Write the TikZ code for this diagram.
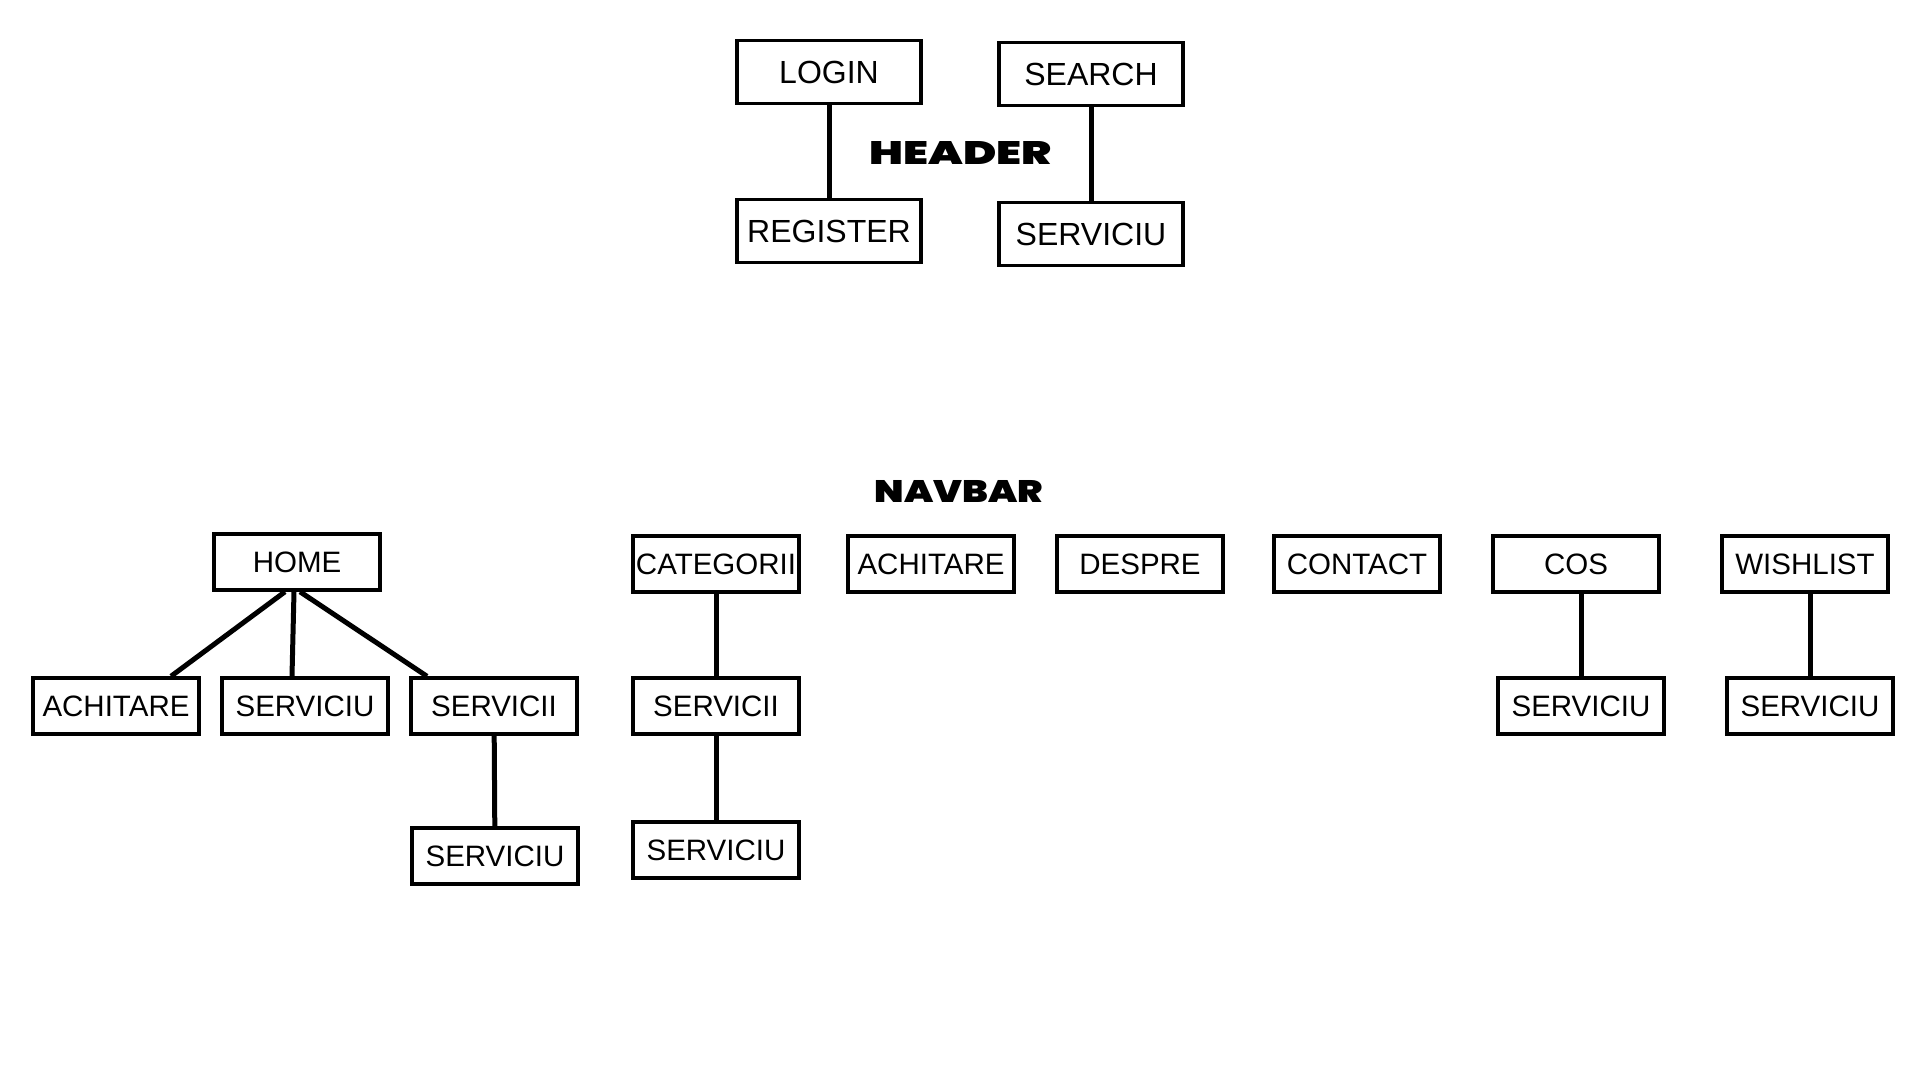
\documentclass[tikz,border=0pt]{standalone}
\usepackage{fontspec}
\usepackage{graphicx}
\setmainfont{Liberation Sans}
\newfontfamily\titlefont{Poppins Black}
\usetikzlibrary{positioning, calc}

\tikzset{
    headbox/.style={draw, line width=3.5pt, inner sep=0pt, minimum width=184pt, minimum height=63pt, font=\fontsize{32}{32}\selectfont},
    navbox/.style={draw, line width=3.5pt, inner sep=0pt, minimum width=166pt, minimum height=56pt, font=\fontsize{29.5}{29.5}\selectfont},
    link/.style={line width=5pt}
}

\begin{document}
\begin{tikzpicture}[x=1pt, y=-1pt]
                \useasboundingbox (0,0) rectangle (1920,1080);
                % header
                \node (header) at (961,153) {\titlefont\resizebox{182pt}{23pt}{HEADER}};
                \node[headbox] (login) at (829,72) {LOGIN};
                \node[headbox] (register) at (829,231) {REGISTER};
                \node[headbox] (search) at (1091,74) {SEARCH};
                \node[headbox] (servhead) at (1091,234) {SERVICIU};
                \draw[link] (login) -- (register);
                \draw[link] (search) -- (servhead);
                % navbar
                \node (navbar) at (959,491) {\titlefont\resizebox{168pt}{22pt}{NAVBAR}};
                \node[navbox] (home) at (297,562) {HOME};
                \node[navbox] (achit) at (116,706) {ACHITARE};
                \node[navbox] (servhome) at (305,706) {SERVICIU};
                \node[navbox] (servii) at (494,706) {SERVICII};
                \node[navbox] (servsub) at (495,856) {SERVICIU};
                \node[navbox] (categ) at (716,564) {CATEGORII};
                \node[navbox] (servcat) at (716,706) {SERVICII};
                \node[navbox] (servcatsub) at (716,850) {SERVICIU};
                \node[navbox] (achitnav) at (931,564) {ACHITARE};
                \node[navbox] (despre) at (1140,564) {DESPRE};
                \node[navbox] (contact) at (1357,564) {CONTACT};
                \node[navbox] (cos) at (1576,564) {COS};
                \node[navbox] (wish) at (1805,564) {WISHLIST};
                \node[navbox] (servcos) at (1581,706) {SERVICIU};
                \node[navbox] (servwish) at (1810,706) {SERVICIU};
                \draw[link] ([xshift=-12pt]home.south) -- ([xshift=55pt]achit.north);
                \draw[link] ([xshift=-3pt]home.south) -- ([xshift=-13pt]servhome.north);
                \draw[link] ([xshift=3pt]home.south) -- ([xshift=-67pt]servii.north);
                \draw[link] (servii) -- (servsub);
                \draw[link] (categ) -- (servcat);
                \draw[link] (servcat) -- (servcatsub);
                \draw[link] (servcos.north) -- (servcos.north |- cos.south);
                \draw[link] (servwish.north) -- (servwish.north |- wish.south);
            \end{tikzpicture}
\end{document}
